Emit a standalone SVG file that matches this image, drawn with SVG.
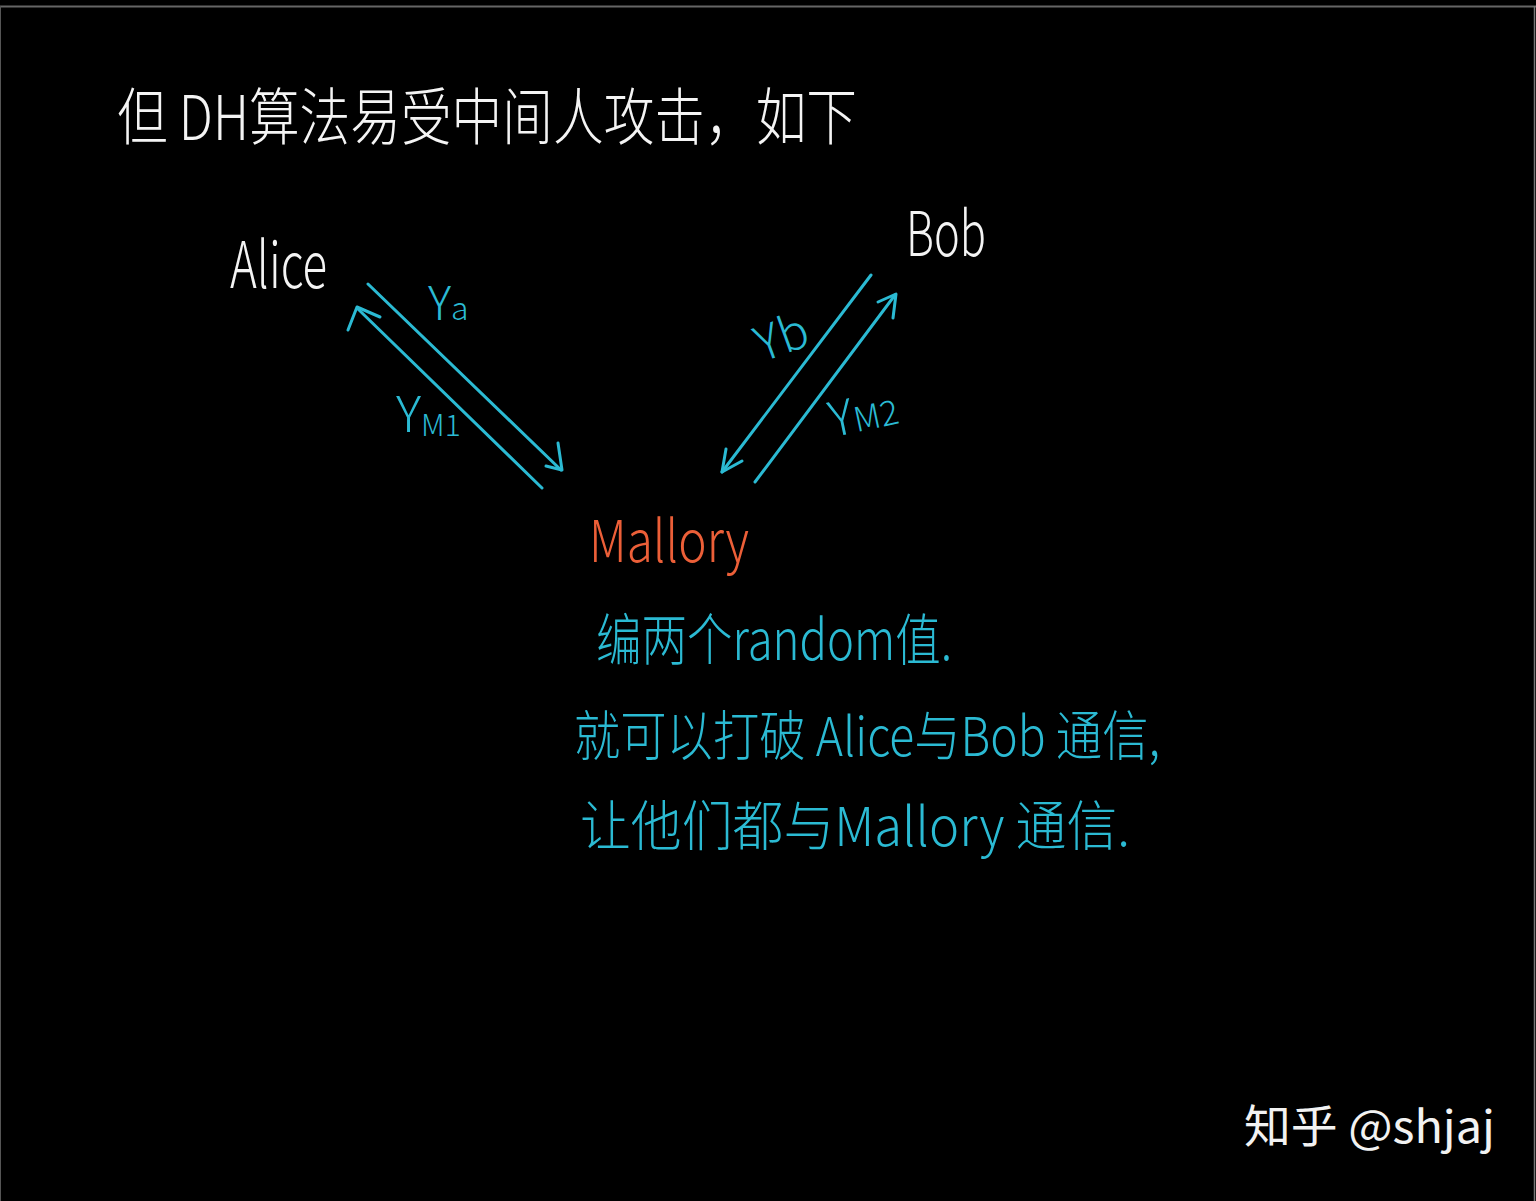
<svg xmlns="http://www.w3.org/2000/svg" width="1536" height="1201" viewBox="0 0 1536 1201">
<style>
.hw{font-family:"Noto Sans CJK SC","Noto Sans",sans-serif;font-weight:300}
.w{fill:#f4f4f4}
.c{fill:#2bbad3}
.o{fill:#ec5f38}
.ln{fill:none;stroke:#2bbad3;stroke-width:3;stroke-linecap:round;stroke-linejoin:round}
</style>
<rect x="0" y="0" width="1536" height="1201" fill="#000"/>
<line x1="0" y1="6.5" x2="1536" y2="6.5" stroke="#666" stroke-width="2"/>
<line x1="0.5" y1="6" x2="0.5" y2="1201" stroke="#555" stroke-width="1"/>
<line x1="1534.5" y1="6" x2="1534.5" y2="1201" stroke="#777" stroke-width="1.5"/>

<g id="title">
<text class="hw w" x="117" y="140" font-size="62" textLength="740" lengthAdjust="spacingAndGlyphs">但 DH算法易受中间人攻击，如下</text>
</g>

<g id="alice">
<text class="hw w" x="230" y="288" font-size="64" textLength="97" lengthAdjust="spacingAndGlyphs">Alice</text>
</g>
<g id="bob">
<text class="hw w" x="906" y="256" font-size="62" textLength="80" lengthAdjust="spacingAndGlyphs">Bob</text>
</g>
<g id="mallory">
<text class="hw o" x="589" y="562" font-size="58" textLength="160" lengthAdjust="spacingAndGlyphs">Mallory</text>
</g>

<g id="connectors">
<g id="ya">
<path class="ln" d="M368,284 L561,470"/>
<path class="ln" d="M558,443 L562,470 L546,466"/>
</g>
<g id="ym1">
<path class="ln" d="M542,488 L358,309"/>
<path class="ln" d="M348,330 L357,307 L380,317"/>
</g>
<g id="yb">
<path class="ln" d="M871,275 L722,472"/>
<path class="ln" d="M726,449 L722,472 L742,461"/>
</g>
<g id="ym2">
<path class="ln" d="M755,482 L895,295"/>
<path class="ln" d="M878,302 L896,294 L893,318"/>
</g>
</g>

<g id="labels">
<text class="hw c" x="428" y="320" font-size="46">Y<tspan font-size="32">a</tspan></text>
<text class="hw c" x="396" y="432" font-size="50">Y<tspan font-size="30" dy="4">M1</tspan></text>
<text class="hw c" x="756" y="355" font-size="48" transform="rotate(-20 780 340)">Yb</text>
<text class="hw c" x="828" y="430" font-size="48" transform="rotate(-12 865 410)">Y<tspan font-size="34">M2</tspan></text>
</g>

<g id="notes">
<text class="hw c" x="596" y="660" font-size="56" textLength="356" lengthAdjust="spacingAndGlyphs">编两个random值.</text>
<text class="hw c" x="574" y="756" font-size="54" textLength="586" lengthAdjust="spacingAndGlyphs">就可以打破 Alice与Bob 通信,</text>
<text class="hw c" x="580" y="846" font-size="54" textLength="550" lengthAdjust="spacingAndGlyphs">让他们都与Mallory 通信.</text>
</g>

<g id="watermark">
<text x="1244" y="1143" font-family="'Noto Sans CJK SC','Noto Sans',sans-serif" font-size="45" fill="#f2f2f2" textLength="251" lengthAdjust="spacingAndGlyphs">知乎 @shjaj</text>
</g>
</svg>
